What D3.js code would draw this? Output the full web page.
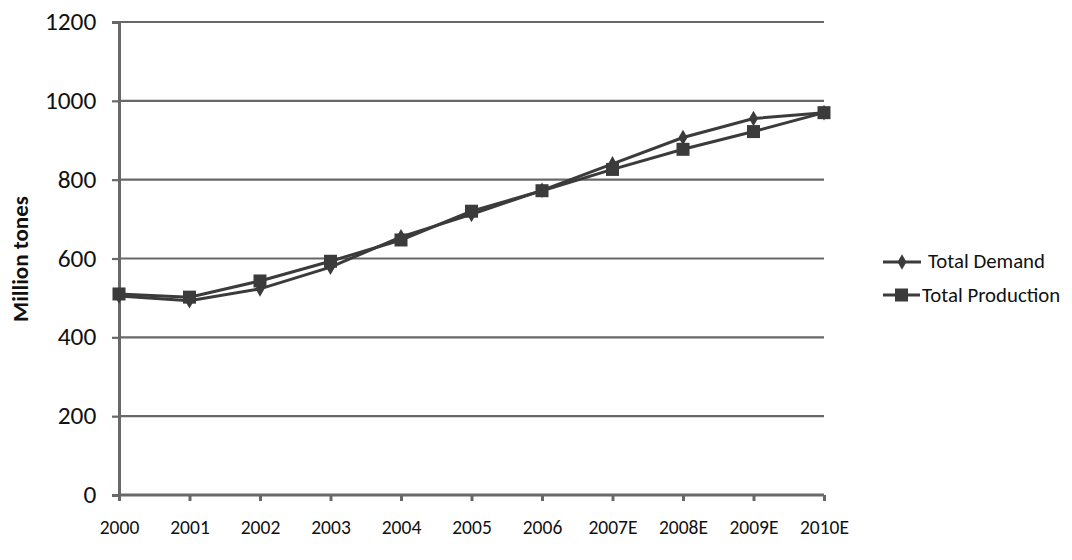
<!DOCTYPE html>
<html><head><meta charset="utf-8">
<script src="https://cdn.jsdelivr.net/npm/d3@7"></script>
<style>body{margin:0;background:#fff;} svg{display:block;}</style>
</head><body>
<svg id="chart" width="1072" height="560"></svg>
<script>
const categories = ["2000","2001","2002","2003","2004","2005","2006","2007E","2008E","2009E","2010E"];
const demand = [505, 493, 523, 578, 655, 712, 773, 840, 907, 955, 970];
const production = [510, 502, 543, 593, 647, 720, 772, 826, 877, 922, 970];
const yTicks = [0, 200, 400, 600, 800, 1000, 1200];
const seriesNames = ["Total Demand", "Total Production"];

const svg = d3.select("#chart");
const font = "Carlito, 'Open Sans', 'Liberation Sans', sans-serif";
const mLeft = 119, mRight = 824, mTop = 22, mBottom = 495;
const x = d3.scalePoint().domain(categories).range([mLeft, mRight]);
const y = d3.scaleLinear().domain([0, 1200]).range([mBottom, mTop]);
const dark = "#3b3b3b", grid = "#686868";

// gridlines
svg.append("g").selectAll("line").data(yTicks.filter(d => d > 0)).join("line")
  .attr("x1", mLeft).attr("x2", mRight).attr("y1", d => y(d)).attr("y2", d => y(d))
  .attr("stroke", grid).attr("stroke-width", 2.2);

// y axis
const ya = svg.append("g").attr("transform", `translate(${mLeft},0)`)
  .call(d3.axisLeft(y).tickValues(yTicks).tickFormat(d3.format("d")).tickSize(7).tickPadding(14));
ya.select(".domain").attr("stroke", grid).attr("stroke-width", 3);
ya.selectAll(".tick line").attr("stroke", grid).attr("stroke-width", 2.2);
ya.selectAll("text").attr("font-family", font).attr("font-size", 23.5).attr("fill", "#111")
  .attr("transform", "scale(1.08,1)");

// x axis
const xa = svg.append("g").attr("transform", `translate(0,${mBottom})`)
  .call(d3.axisBottom(x).tickSize(6).tickPadding(24));
xa.select(".domain").attr("stroke", grid).attr("stroke-width", 3).attr("d", `M${mLeft},0H${mRight}`);
xa.selectAll(".tick line").attr("stroke", grid).attr("stroke-width", 3);
xa.selectAll("text").attr("font-family", font).attr("font-size", 19.5).attr("fill", "#111")
  .attr("dy", "0").attr("y", 39);

// y title
svg.append("text").attr("transform", "translate(28,259) rotate(-90)")
  .attr("text-anchor", "middle").attr("font-family", font).attr("font-weight", "bold")
  .attr("font-size", 23).attr("fill", "#111").text("Million tones");

const line = d3.line().x((d, i) => x(categories[i])).y(d => y(d));
const diamond = d3.symbol().type(d3.symbolDiamond).size(70);

// demand
svg.append("path").datum(demand).attr("d", line).attr("fill", "none")
  .attr("stroke", dark).attr("stroke-width", 3);
svg.append("g").selectAll("path").data(demand).join("path")
  .attr("d", diamond).attr("transform", (d, i) => `translate(${x(categories[i])},${y(d)})`)
  .attr("fill", dark);

// production
svg.append("path").datum(production).attr("d", line).attr("fill", "none")
  .attr("stroke", dark).attr("stroke-width", 3);
svg.append("g").selectAll("rect").data(production).join("rect")
  .attr("x", (d, i) => x(categories[i]) - 6.5).attr("y", d => y(d) - 6.5)
  .attr("width", 13).attr("height", 13).attr("fill", dark);

// legend
const lg = svg.append("g");
lg.append("line").attr("x1", 883).attr("x2", 921).attr("y1", 262).attr("y2", 262).attr("stroke", dark).attr("stroke-width", 3);
lg.append("path").attr("d", diamond).attr("transform", "translate(902,262)").attr("fill", dark);
lg.append("text").attr("x", 928).attr("y", 268).attr("font-family", font).attr("font-size", 20.8).attr("fill", "#111").text(seriesNames[0]);
lg.append("line").attr("x1", 883).attr("x2", 920).attr("y1", 295).attr("y2", 295).attr("stroke", dark).attr("stroke-width", 3);
lg.append("rect").attr("x", 895).attr("y", 288.5).attr("width", 13).attr("height", 13).attr("fill", dark);
lg.append("text").attr("x", 922).attr("y", 302).attr("font-family", font).attr("font-size", 20.8).attr("fill", "#111").text(seriesNames[1]);
</script>
</body></html>
